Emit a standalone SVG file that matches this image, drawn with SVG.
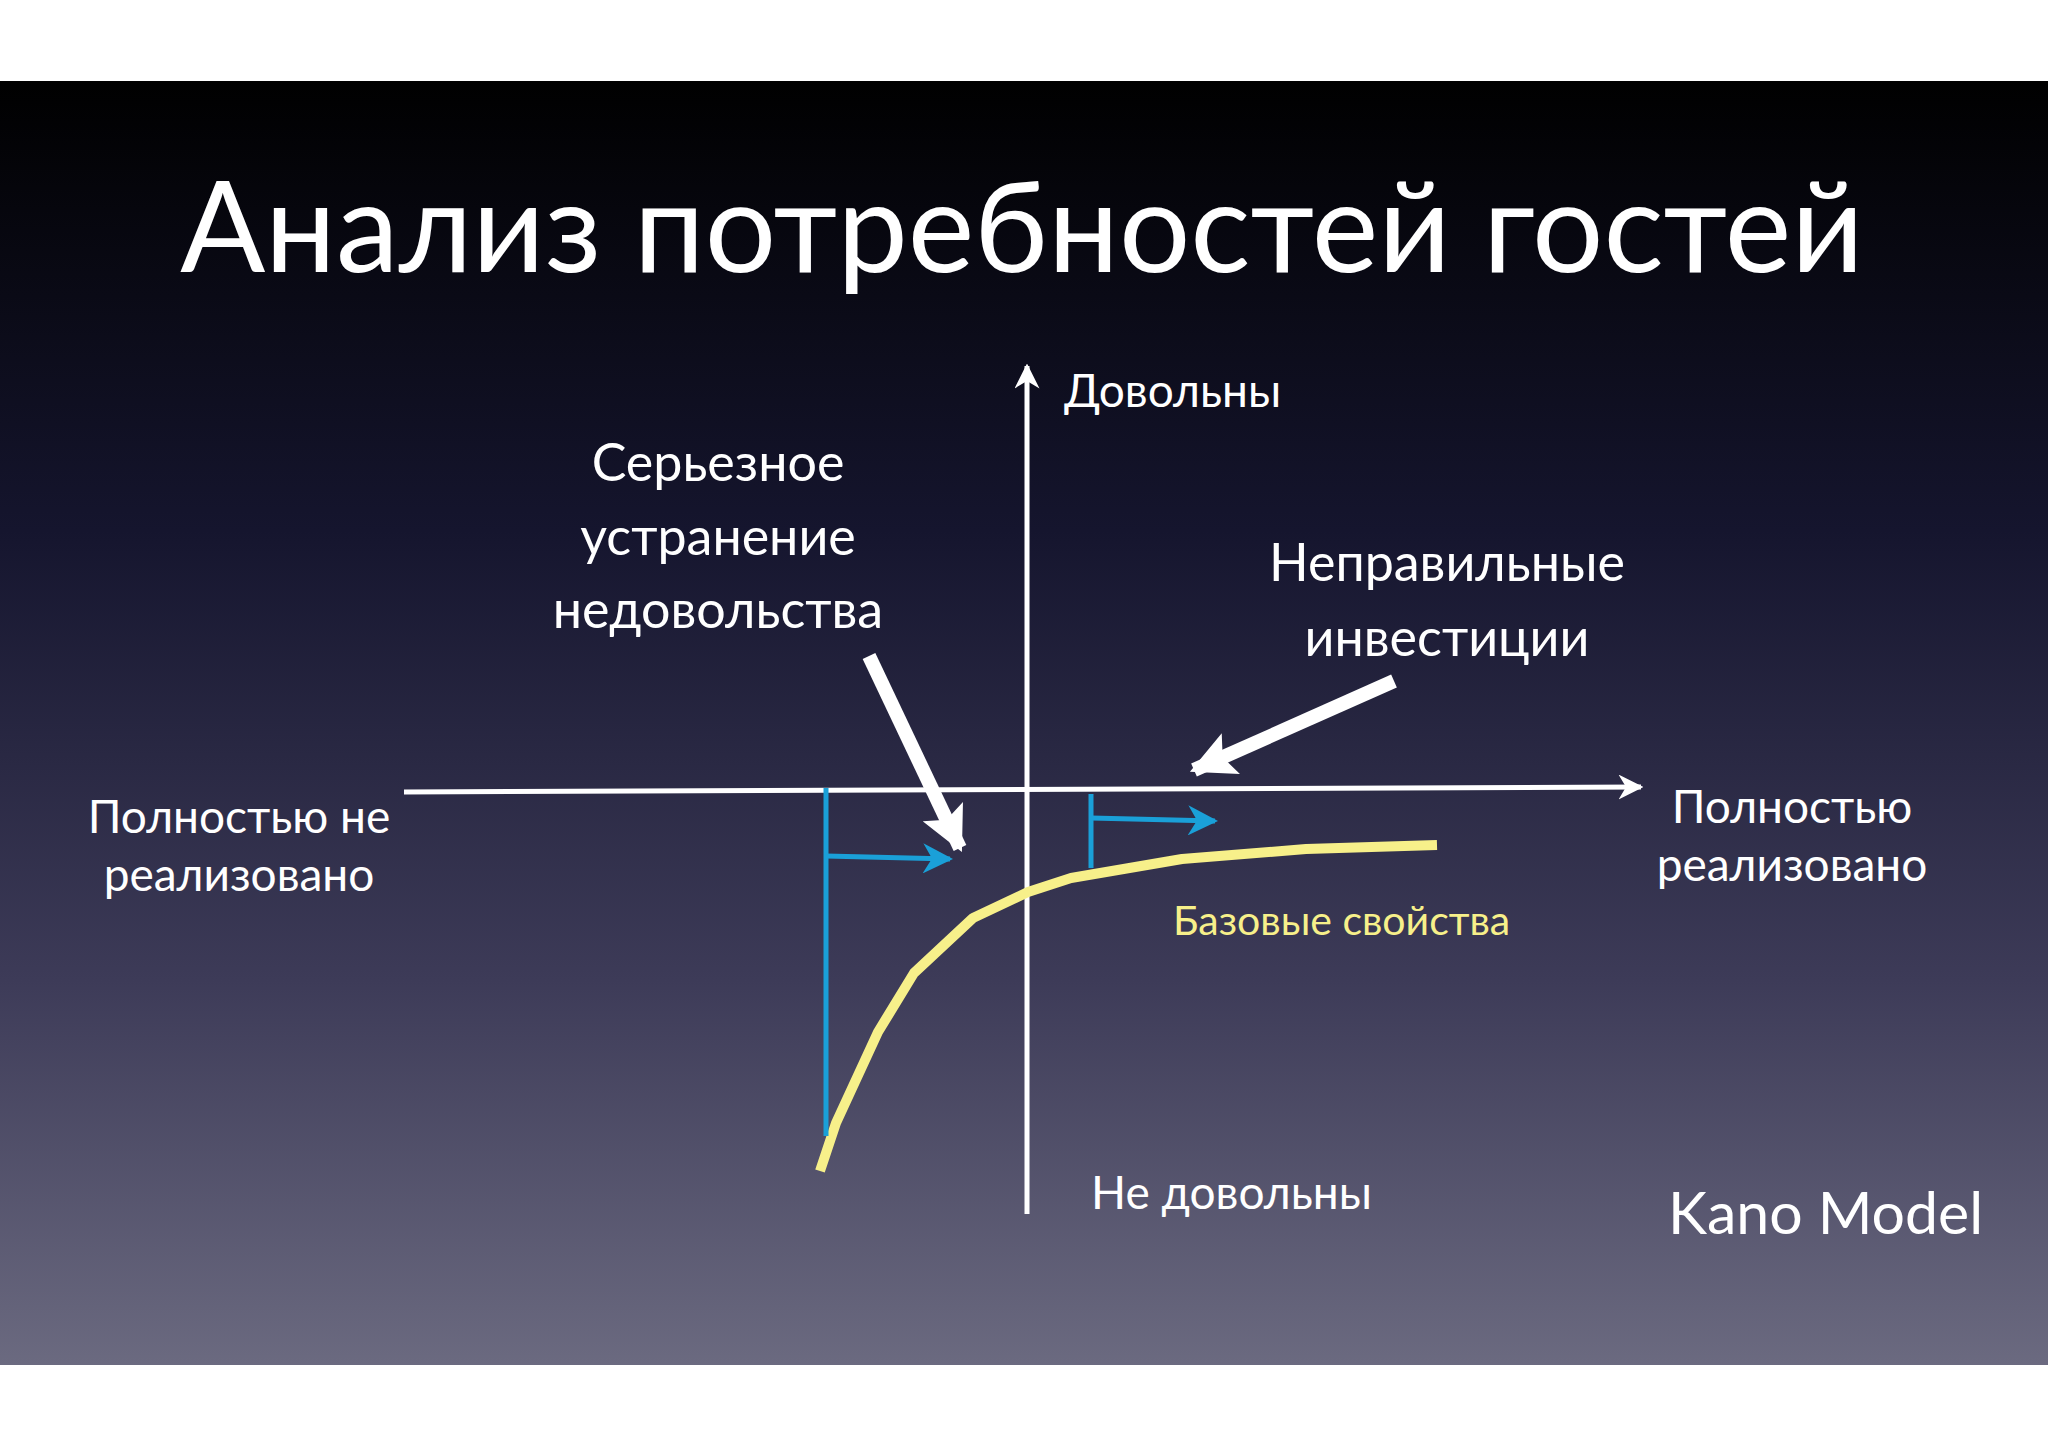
<svg xmlns="http://www.w3.org/2000/svg" width="2048" height="1447" viewBox="0 0 2048 1447">
<defs>
<linearGradient id="bg" x1="0" y1="0" x2="0" y2="1">
<stop offset="0" stop-color="#000000"/>
<stop offset="0.35" stop-color="#15152e"/>
<stop offset="0.7" stop-color="#3d3b58"/>
<stop offset="1" stop-color="#6b6a80"/>
</linearGradient>
<marker id="wa" viewBox="0 0 10 10" refX="9" refY="5" markerWidth="5" markerHeight="5" orient="auto" markerUnits="strokeWidth"><path d="M0,0 L10,5 L0,10 L3,5 z" fill="#fff"/></marker>
<marker id="ba" viewBox="0 0 10 10" refX="9" refY="5" markerWidth="6" markerHeight="6" orient="auto" markerUnits="strokeWidth"><path d="M0,0 L10,5 L0,10 L3,5 z" fill="#1aa0d8"/></marker>
<marker id="bw" viewBox="0 0 10 10" refX="9" refY="5" markerWidth="3.2" markerHeight="3.2" orient="auto" markerUnits="strokeWidth"><path d="M0,0 L10,5 L0,10 L2,5 z" fill="#fff"/></marker>
</defs>
<style>
text{font-family:Lato,"Open Sans","DejaVu Sans",sans-serif;fill:#fff}
.l{font-size:46px}
.c{font-size:52px;text-anchor:middle}
.ax{stroke:#fff;stroke-width:5;fill:none}
.bl{stroke:#1aa0d8;stroke-width:5;fill:none}
</style>
<rect width="2048" height="1447" fill="#fff"/>
<rect x="0" y="81" width="2048" height="1284" fill="url(#bg)"/>
<g id="title"><text x="1022" y="272" font-size="126" text-anchor="middle">Анализ потребностей гостей</text></g>
<g id="connectors">
<line class="ax" x1="1027" y1="1214" x2="1027" y2="366" marker-end="url(#wa)"/>
<line class="ax" x1="404" y1="792" x2="1641" y2="787" marker-end="url(#wa)"/>
<path d="M820,1171 L836,1123 L878,1032 L914,973 L973,918 L1028,892 L1071,878 L1182,859 L1306,849 L1437,845" stroke="#f7f08a" stroke-width="10" fill="none" stroke-linejoin="round"/>
<polyline class="bl" points="826,788 826,1136"/>
<line class="bl" x1="826" y1="856" x2="950" y2="859" marker-end="url(#ba)"/>
<polyline class="bl" points="1091,794 1091,868"/>
<line class="bl" x1="1091" y1="818" x2="1215" y2="821" marker-end="url(#ba)"/>
<line x1="869" y1="656" x2="960" y2="848" stroke="#fff" stroke-width="14" marker-end="url(#bw)"/>
<line x1="1394" y1="681" x2="1194" y2="770" stroke="#fff" stroke-width="14" marker-end="url(#bw)"/>
</g>
<g id="labels">
<text class="l" x="1064" y="407">Довольны</text>
<text class="c" x="718" y="481">Серьезное</text>
<text class="c" x="718" y="555">устранение</text>
<text class="c" x="718" y="628">недовольства</text>
<text class="c" x="1447" y="581">Неправильные</text>
<text class="c" x="1447" y="656">инвестиции</text>
<text class="l" x="239" y="833" text-anchor="middle">Полностью не</text>
<text class="l" x="239" y="891" text-anchor="middle">реализовано</text>
<text class="l" x="1792" y="823" text-anchor="middle">Полностью</text>
<text class="l" x="1792" y="881" text-anchor="middle">реализовано</text>
<text x="1173" y="935" font-size="41" style="fill:#f7f08a">Базовые свойства</text>
<text class="l" x="1091" y="1209">Не довольны</text>
<text x="1668" y="1234" font-size="59">Kano Model</text>
</g>
</svg>
